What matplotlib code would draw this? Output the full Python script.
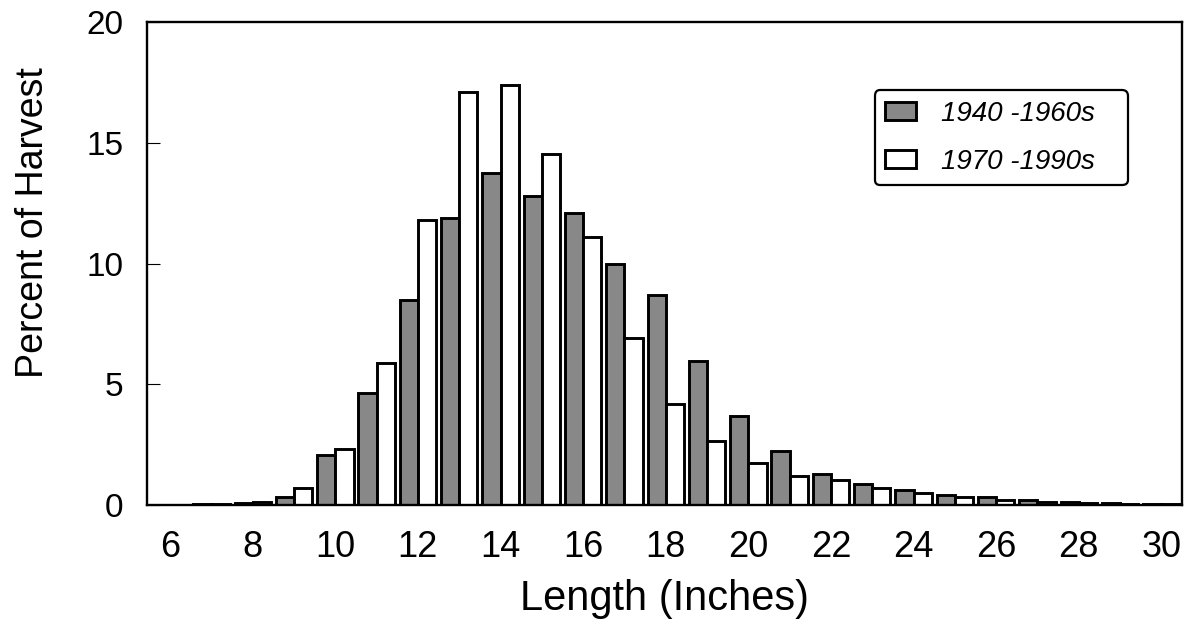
import numpy as np
import matplotlib
matplotlib.use('Agg')
import matplotlib.pyplot as plt

plt.rcParams['font.family'] = ['Liberation Sans', 'DejaVu Sans']

# lengths in inches, percent of harvest for each period
lengths = np.arange(6, 31)
pct_1940s = [0.02, 0.03, 0.08, 0.35, 2.05, 4.65, 8.5, 11.9, 13.75, 12.8, 12.1, 10.0, 8.7,
             5.95, 3.7, 2.25, 1.3, 0.88, 0.62, 0.4, 0.33, 0.2, 0.14, 0.1, 0.05]
pct_1970s = [0.02, 0.03, 0.12, 0.7, 2.33, 5.9, 11.8, 17.1, 17.4, 14.55, 11.1, 6.9, 4.17,
             2.65, 1.75, 1.22, 1.03, 0.72, 0.51, 0.35, 0.22, 0.12, 0.08, 0.05, 0.03]
labels = ['1940 -1960s', '1970 -1990s']
yticks = [0, 5, 10, 15, 20]
xticks = np.arange(6, 31, 2)

fig = plt.figure(figsize=(11.98, 6.30), dpi=100)
ax = fig.add_axes([147 / 1198, 1 - 505 / 630, (1182 - 147) / 1198, (505 - 22) / 630])

w = 0.44
ax.bar(lengths - w / 2, pct_1940s, width=w, color='#888888', edgecolor='black',
       linewidth=2.1, label=labels[0])
ax.bar(lengths + w / 2, pct_1970s, width=w, color='white', edgecolor='black',
       linewidth=2.1, label=labels[1])

ax.set_xlim(5.44, 30.5)
ax.set_ylim(0, 20)
ax.set_xticks(xticks)
ax.set_yticks(yticks)
ax.tick_params(axis='x', length=0, pad=18, labelsize=26)
ax.tick_params(axis='y', direction='in', length=9, width=0.8, pad=17, labelsize=24)
for s in ax.spines.values():
    s.set_linewidth(1.7)

ax.set_xlabel('Length (Inches)', fontsize=30, labelpad=10)
ax.set_ylabel('Percent of Harvest', fontsize=27)
ax.yaxis.set_label_coords(-0.093, 0.584)

# legend box spans x 875-1128 px, top at 90 px
leg = ax.legend(loc='upper left', bbox_to_anchor=(0.703, 0.0, 0.2444, 0.859),
                mode='expand', prop={'style': 'italic', 'size': 20}, frameon=True,
                fancybox=True, edgecolor='black', framealpha=1, handlelength=1.1,
                handleheight=0.6, handletextpad=0.9, labelspacing=0.8, borderpad=0.38,
                borderaxespad=0)
leg.get_frame().set_linewidth(1.6)

fig.savefig('out.png', dpi=100)
